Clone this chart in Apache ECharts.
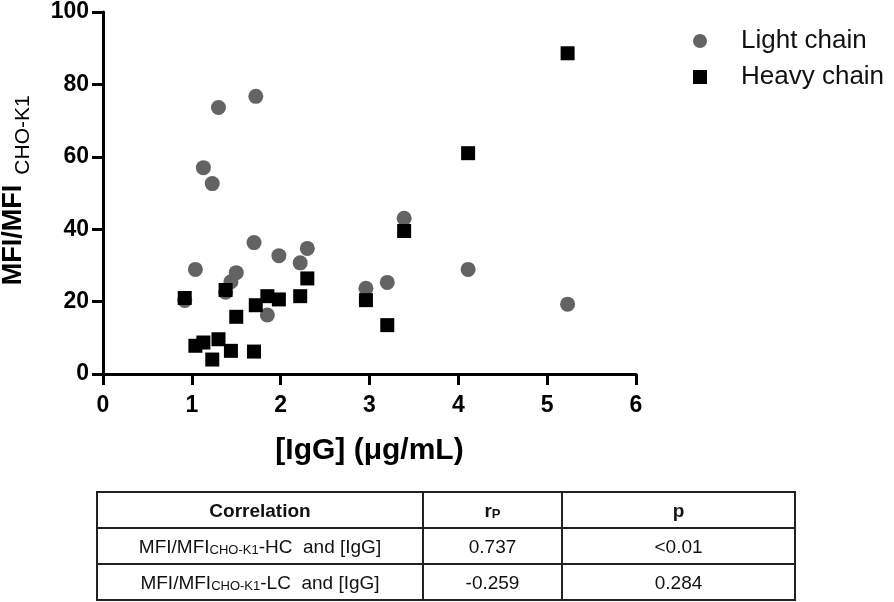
<!DOCTYPE html>
<html>
<head>
<meta charset="utf-8">
<style>
  html, body { margin: 0; padding: 0; background: #fff; }
  #chart { width: 894px; height: 602px; }
</style>
<script src="https://cdn.jsdelivr.net/npm/echarts@6/dist/echarts.min.js"></script>
</head>
<body>
<div id="chart"></div>
<script>
// [IgG] (ug/mL) per sample, shared by both chains
const igg = [0.92, 1.04, 1.13, 1.23, 1.30, 1.38, 1.44, 1.50, 1.70, 1.72, 1.85, 1.98, 2.22, 2.30, 2.96, 3.20, 3.39, 4.11, 5.23];
const lightChain = [20.3, 28.9, 57.0, 52.6, 73.6, 22.6, 25.5, 28.0, 36.3, 76.7, 16.3, 32.7, 30.7, 34.7, 23.7, 25.3, 43.0, 28.9, 19.3];
const heavyChain = [21.0, 7.8, 8.7, 4.0, 9.6, 23.2, 6.4, 15.8, 6.2, 19.0, 21.5, 20.6, 21.5, 26.4, 20.4, 13.5, 39.5, 61.0, 88.6];

const tableHead = ["Correlation", "r", "p"];
const tableRows = [
  ["HC", "0.737", "<0.01"],
  ["LC", "-0.259", "0.284"],
];

const FONT = "'Liberation Sans', Arial, sans-serif";

function pairs(ys) {
  return ys.map((y, i) => [igg[i], y]);
}

// table geometry
const tLeft = 97, tRight = 795, tTop = 492, rowH = 36;
const cols = [97, 423, 562, 795];

function tableGraphics() {
  const els = [];
  const tBottom = tTop + rowH * 3;
  els.push({
    type: "rect",
    shape: { x: tLeft, y: tTop, width: tRight - tLeft, height: tBottom - tTop },
    style: { fill: "none", stroke: "#222", lineWidth: 2 },
  });
  for (let r = 1; r < 3; r++) {
    els.push({
      type: "line",
      shape: { x1: tLeft, y1: tTop + rowH * r, x2: tRight, y2: tTop + rowH * r },
      style: { stroke: "#222", lineWidth: 2 },
    });
  }
  for (let c = 1; c < 3; c++) {
    els.push({
      type: "line",
      shape: { x1: cols[c], y1: tTop, x2: cols[c], y2: tBottom },
      style: { stroke: "#222", lineWidth: 2 },
    });
  }
  const cellText = (c, r, text, rich) => ({
    type: "text",
    x: (cols[c] + cols[c + 1]) / 2,
    y: tTop + rowH * r + rowH / 2,
    style: {
      text: text,
      rich: rich,
      align: "center",
      verticalAlign: "middle",
      fill: "#111",
      font: "19px " + FONT,
    },
  });
  const headRich = {
    b: { fontFamily: FONT, fontSize: 19, fontWeight: "bold", lineHeight: 22, verticalAlign: "bottom", fill: "#111" },
    s: { fontFamily: FONT, fontSize: 13, fontWeight: "bold", lineHeight: 12, verticalAlign: "bottom", fill: "#111" },
  };
  els.push(cellText(0, 0, "{b|" + tableHead[0] + "}", headRich));
  els.push(cellText(1, 0, "{b|" + tableHead[1] + "}{s|P}", headRich));
  els.push(cellText(2, 0, "{b|" + tableHead[2] + "}", headRich));
  const rowRich = {
    m: { fontFamily: FONT, fontSize: 19, lineHeight: 22, verticalAlign: "bottom", fill: "#111" },
    s: { fontFamily: FONT, fontSize: 13, lineHeight: 12, verticalAlign: "bottom", fill: "#111" },
  };
  tableRows.forEach((row, i) => {
    els.push(cellText(0, i + 1, "{m|MFI/MFI}{s|CHO-K1}{m|-" + row[0] + "  and [IgG]}", rowRich));
    els.push(cellText(1, i + 1, "{m|" + row[1] + "}", rowRich));
    els.push(cellText(2, i + 1, "{m|" + row[2] + "}", rowRich));
  });
  return els;
}

const chart = echarts.init(document.getElementById("chart"), null, { renderer: "canvas" });

const axisCommon = {
  axisLine: { show: true, lineStyle: { color: "#000", width: 3 } },
  axisTick: { show: true, length: 11, lineStyle: { color: "#000", width: 3 } },
  splitLine: { show: false },
  axisLabel: { color: "#000", fontFamily: FONT, fontWeight: "bold", fontSize: 23 },
};

const option = {
  backgroundColor: "#fff",
  animation: false,
  grid: { left: 103, top: 12, width: 533, height: 362 },
  legend: {
    orient: "vertical",
    left: 688,
    top: 23,
    itemWidth: 14,
    itemHeight: 14,
    itemGap: 10,
    textStyle: { fontFamily: FONT, fontSize: 26, color: "#111", padding: [0, 0, 0, 29] },
    data: [
      { name: "Light chain", icon: "circle" },
      { name: "Heavy chain", icon: "rect" },
    ],
  },
  xAxis: Object.assign({}, axisCommon, {
    type: "value",
    min: 0,
    max: 6,
    interval: 1,
    axisLabel: Object.assign({}, axisCommon.axisLabel, { margin: 20 }),
    name: "[IgG] (\u03bcg/mL)",
    nameLocation: "middle",
    nameGap: 62,
    nameTextStyle: { color: "#000", fontFamily: FONT, fontWeight: "bold", fontSize: 30 },
  }),
  yAxis: Object.assign({}, axisCommon, {
    type: "value",
    min: 0,
    max: 100,
    interval: 20,
    axisLabel: Object.assign({}, axisCommon.axisLabel, { margin: 14 }),
  }),
  graphic: [
    {
      type: "text",
      x: 14,
      y: 235,
      rotation: Math.PI / 2,
      style: {
        text: "MFI/MFI",
        font: "bold 27px " + FONT,
        fill: "#000",
        align: "center",
        verticalAlign: "middle",
      },
    },
    {
      type: "text",
      x: 23,
      y: 135,
      rotation: Math.PI / 2,
      style: {
        text: "CHO-K1",
        font: "21px " + FONT,
        fill: "#000",
        align: "center",
        verticalAlign: "middle",
      },
    },
  ].concat(tableGraphics()),
  series: [
    {
      name: "Light chain",
      type: "scatter",
      symbol: "circle",
      symbolSize: 15,
      itemStyle: { color: "#636363", opacity: 1 },
      data: pairs(lightChain),
    },
    {
      name: "Heavy chain",
      type: "scatter",
      symbol: "rect",
      symbolSize: 14,
      itemStyle: { color: "#000", opacity: 1 },
      data: pairs(heavyChain),
    },
  ],
};

chart.setOption(option);
</script>
</body>
</html>
